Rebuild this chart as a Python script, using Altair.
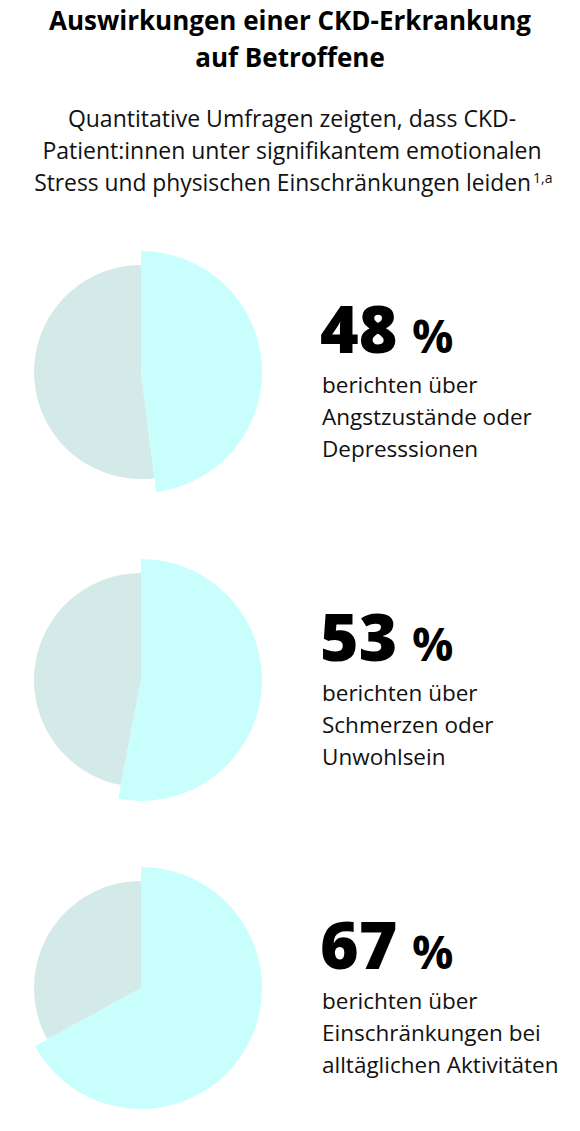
import altair as alt
import pandas as pd

title_lines = ["Auswirkungen einer CKD-Erkrankung", "auf Betroffene"]
subtitle_lines = [
    "Quantitative Umfragen zeigten, dass CKD-",
    "Patient:innen unter signifikantem emotionalen",
    "Stress und physischen Einschränkungen leiden",
]
footnote = "1,a"

percents = [48, 53, 67]
descriptions = [
    "berichten über\nAngstzustände oder\nDepresssionen",
    "berichten über\nSchmerzen oder\nUnwohlsein",
    "berichten über\nEinschränkungen bei\nalltäglichen Aktivitäten",
]

CYAN = "#C8FFFD"
GRAY = "#D4EAE9"
FONT = "Open Sans"

# long format: affected share first, remainder second
rows = []
for i, (p, d) in enumerate(zip(percents, descriptions)):
    rows.append({"idx": i, "part": "ja", "ord": 0, "value": p, "label": str(p), "desc": d})
    rows.append({"idx": i, "part": "nein", "ord": 1, "value": 100 - p, "label": str(p), "desc": d})
pie_df = pd.DataFrame(rows)

CELL_W, CELL_H, HEAD_H = 564, 307.5, 190
CX, CY = alt.value(133), alt.value(174)
theta_scale = alt.Scale(domain=[0, 100], range=[0, 6.283185307179586])

stacked = alt.Chart().transform_stack(
    stack="value", groupby=["idx"], as_=["s0", "s1"],
    sort=[alt.SortField("ord", order="ascending")],
)

gray = stacked.transform_filter("datum.part == 'nein'").mark_arc(
    radius=107, color=GRAY
).encode(
    x=CX, y=CY,
    theta=alt.Theta("s0:Q", scale=theta_scale, stack=None),
    theta2=alt.Theta2("s1:Q"),
)
cyan = stacked.transform_filter("datum.part == 'ja'").mark_arc(
    radius=121, color=CYAN
).encode(
    x=CX, y=CY,
    theta=alt.Theta("s0:Q", scale=theta_scale, stack=None),
    theta2=alt.Theta2("s1:Q"),
)

first = alt.Chart().transform_filter("datum.part == 'ja'")

num = first.mark_text(
    font=FONT, fontSize=66, fontWeight=800, align="left",
    baseline="alphabetic", dy=-19, color="#000000",
).encode(x=alt.value(312), y=CY, text="label:N")

pct = first.transform_calculate(sym="'%'").mark_text(
    font=FONT, fontSize=46, fontWeight=700, align="left",
    baseline="alphabetic", dy=-19, color="#000000",
).encode(x=alt.value(404), y=CY, text="sym:N")

desc = first.mark_text(
    font=FONT, fontSize=22.5, align="left", baseline="alphabetic",
    dy=21, lineBreak="\n", lineHeight=32, color="#111111",
).encode(x=alt.value(314), y=CY, text="desc:N")

pies = alt.layer(gray, cyan, num, pct, desc, data=pie_df).properties(
    width=CELL_W, height=CELL_H
).facet(
    row=alt.Row("idx:O", header=alt.Header(labels=False, title=None)),
    spacing=0,
)

tdf = pd.DataFrame({"t": ["\n".join(title_lines)]})
title = alt.Chart(tdf).mark_text(
    font=FONT, fontSize=26, fontWeight=700, align="center",
    baseline="alphabetic", lineBreak="\n", lineHeight=37, color="#000000",
).encode(x=alt.value(282), y=alt.value(22), text="t:N")

sdf = pd.DataFrame({"t": ["\n".join(subtitle_lines[:2])]})
sub = alt.Chart(sdf).mark_text(
    font=FONT, fontSize=23, align="center", baseline="alphabetic",
    lineBreak="\n", lineHeight=32, color="#111111",
).encode(x=alt.value(284), y=alt.value(119), text="t:N")

s3df = pd.DataFrame({"t": [subtitle_lines[2]]})
sub3 = alt.Chart(s3df).mark_text(
    font=FONT, fontSize=22.8, align="right", baseline="alphabetic",
    color="#111111",
).encode(x=alt.value(523), y=alt.value(183), text="t:N")

fdf = pd.DataFrame({"t": [footnote]})
foot = alt.Chart(fdf).mark_text(
    font=FONT, fontSize=14, align="left", baseline="alphabetic",
    color="#111111",
).encode(x=alt.value(525), y=alt.value(175), text="t:N")

header = alt.layer(title, sub, sub3, foot).properties(width=CELL_W, height=HEAD_H)

chart = alt.vconcat(header, pies, spacing=0).properties(
    padding=0
).configure_view(stroke=None)

chart.save("out.html", embed_options={"renderer": "svg", "actions": False})
